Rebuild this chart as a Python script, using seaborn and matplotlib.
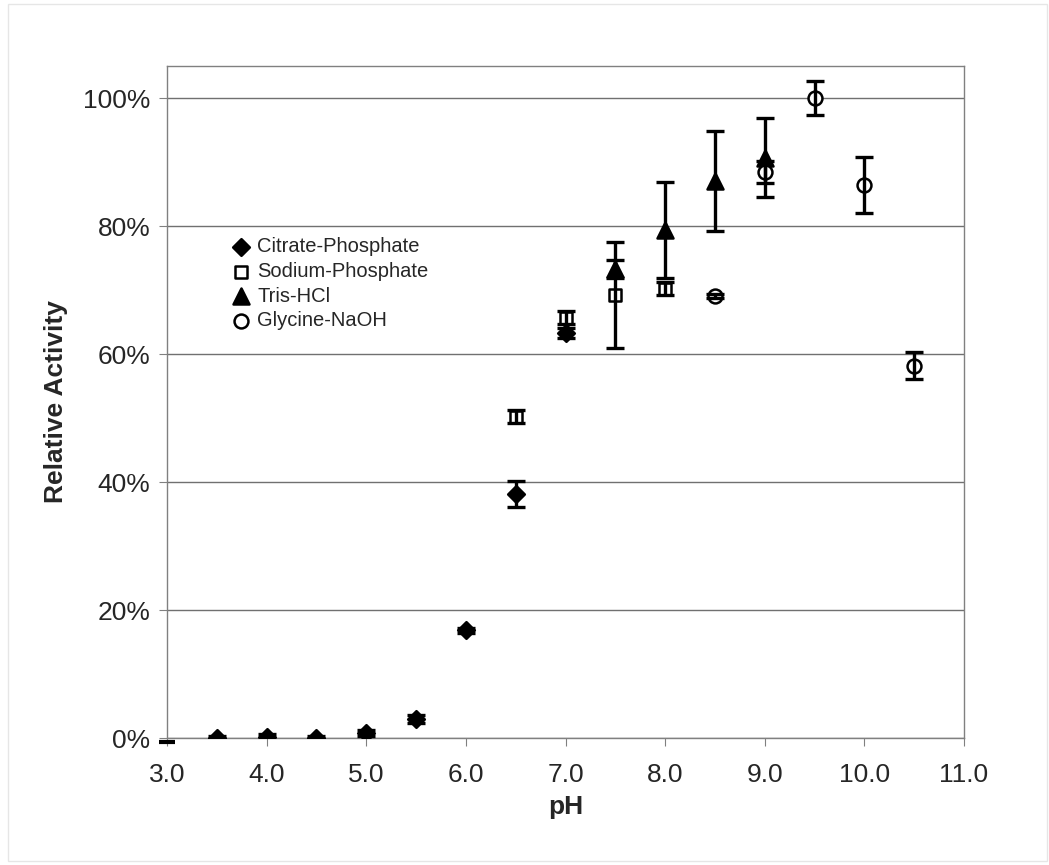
import numpy as np
import pandas as pd
import seaborn as sns
import matplotlib.pyplot as plt
from matplotlib.patches import Rectangle
from matplotlib.ticker import PercentFormatter

# data (fraction of max activity)
citrate_ph = [3.5, 4.0, 4.5, 5.0, 5.5, 6.0, 6.5, 7.0]
citrate_act = [0.000, 0.002, 0.000, 0.008, 0.030, 0.168, 0.381, 0.633]
citrate_err = [0.003, 0.005, 0.003, 0.005, 0.006, 0.004, 0.020, 0.008]

sodium_ph = [6.5, 7.0, 7.5, 8.0]
sodium_act = [0.502, 0.657, 0.692, 0.702]
sodium_err = [0.010, 0.010, 0.083, 0.010]

tris_ph = [7.5, 8.0, 8.5, 9.0]
tris_act = [0.733, 0.794, 0.870, 0.907]
tris_err = [0.014, 0.075, 0.078, 0.062]

glycine_ph = [8.5, 9.0, 9.5, 10.0, 10.5]
glycine_act = [0.690, 0.884, 1.000, 0.864, 0.582]
glycine_err = [0.003, 0.017, 0.027, 0.044, 0.021]

# stray mark at pH 3.0 just under the axis
stray_ph = [3.0]
stray_act = [-0.007]

series = [
    ("Citrate-Phosphate", citrate_ph, citrate_act, citrate_err, "D", 8.5, "black"),
    ("Sodium-Phosphate", sodium_ph, sodium_act, sodium_err, "s", 9, "white"),
    ("Tris-HCl", tris_ph, tris_act, tris_err, "^", 11.5, "black"),
    ("Glycine-NaOH", glycine_ph, glycine_act, glycine_err, "o", 10, "white"),
]

sns.set_style("white")
plt.rcParams['font.family'] = ['Liberation Sans', 'DejaVu Sans']

fig = plt.figure(figsize=(10.49, 8.65), dpi=100)
ax = fig.add_axes([167 / 1049, 1 - 738 / 865, (964 - 167) / 1049, (738 - 66) / 865])

fig.patches.append(Rectangle((0.008, 0.005), 0.99, 0.99, transform=fig.transFigure,
                             fill=False, edgecolor="#e6e6e6", lw=1))

for name, x, y, e, m, ms, fc in series:
    df = pd.DataFrame({"pH": x, "act": y})
    sns.scatterplot(data=df, x="pH", y="act", marker=m, s=ms ** 2, color=fc,
                    edgecolor="black", linewidth=1.8, ax=ax, zorder=3, label=name)
    ax.errorbar(x, y, yerr=e, fmt="none", ecolor="black", elinewidth=2.4,
                capsize=6.5, capthick=2.4, zorder=4)

ax.plot(stray_ph, stray_act, marker="_", ms=11, mew=3, color="black",
        linestyle="none", clip_on=False, zorder=5)

ax.set_xlim(3, 11)
ax.set_ylim(0, 1.05)
ax.set_xticks(np.arange(3, 11.01, 1))
ax.set_xticklabels([f"{v:.1f}" for v in np.arange(3, 11.01, 1)])
ax.set_yticks(np.arange(0, 1.01, 0.2))
ax.yaxis.set_major_formatter(PercentFormatter(1.0, decimals=0))
ax.yaxis.grid(True, color="#707070", lw=1)
ax.set_axisbelow(True)
for sp in ax.spines.values():
    sp.set_color("#808080")
    sp.set_linewidth(1)
ax.tick_params(axis="both", direction="out", length=6, color="#808080",
               labelsize=19, pad=6, left=True, bottom=True)
ax.tick_params(axis="x", pad=12)

ax.set_xlabel("pH", fontsize=19, fontweight="bold", labelpad=6)
ax.set_ylabel("Relative Activity", fontsize=19, fontweight="bold", labelpad=11)

leg = ax.legend(loc="upper left", bbox_to_anchor=(0.07, 0.757), frameon=False,
                fontsize=14.5, handlelength=1.0, handletextpad=0.3,
                labelspacing=0.28, borderaxespad=0)

fig.savefig("out.png", dpi=100)
